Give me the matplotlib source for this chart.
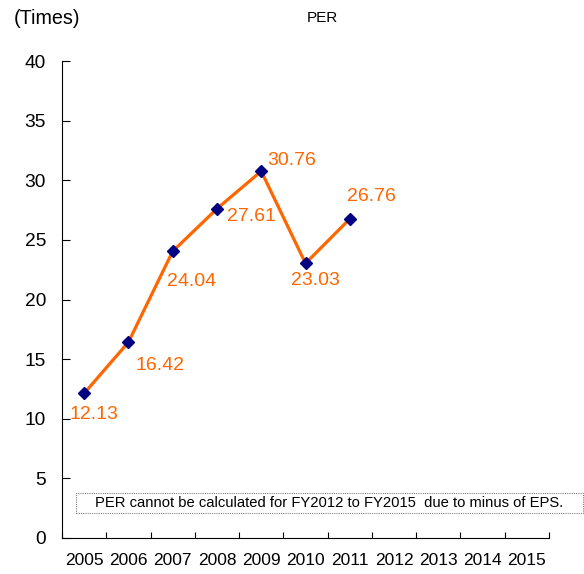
import matplotlib

matplotlib.use('Agg')
import matplotlib.pyplot as plt

plt.rcParams['font.family'] = ['Liberation Sans', 'DejaVu Sans']

years = ['2005', '2006', '2007', '2008', '2009', '2010', '2011',
         '2012', '2013', '2014', '2015']
per = [12.13, 16.42, 24.04, 27.61, 30.76, 23.03, 26.76]
# label offsets in pixels (dx, dy) relative to each point
label_offsets = [(10, -21), (32, -23), (19, -30), (34, -8), (30, 11), (10, -17), (22, 22)]

note = 'PER cannot be calculated for FY2012 to FY2015  due to minus of EPS.'

fig = plt.figure(figsize=(5.84, 5.74), dpi=100)
ax = fig.add_axes([62 / 584, 36 / 574, 487 / 584, 477 / 574])

x = list(range(len(per)))
ax.plot(x, per, color='#FF6600', lw=2.3, marker='D', ms=6,
        mfc='#000080', mec='#000080', zorder=3)

for xi, v, (dx, dy) in zip(x, per, label_offsets):
    ax.annotate(f'{v:.2f}', (xi, v), xytext=(dx, dy), textcoords='offset pixels',
                ha='center', va='center', color='#FF6600', fontsize=14)

ax.set_xlim(-0.5, len(years) - 0.5)
ax.set_ylim(0, 40)
ax.set_yticks(range(0, 41, 5))
ax.tick_params(axis='y', direction='in', length=6, labelsize=13.8, pad=11.5)

# category ticks at boundaries, labels at centres
ax.set_xticks([i - 0.5 for i in range(len(years) + 1)])
ax.set_xticklabels([])
ax.set_xticks(range(len(years)), minor=True)
ax.set_xticklabels(years, minor=True, fontsize=12.5)
ax.tick_params(axis='x', which='major', direction='in', length=4)
ax.tick_params(axis='x', which='minor', length=0, pad=11)

for s in ['top', 'right']:
    ax.spines[s].set_visible(False)

fig.text(322 / 584, 1 - 18 / 574, 'PER', ha='center', va='center', fontsize=11)
fig.text(14 / 584, 1 - 18 / 574, '(Times)', ha='left', va='center', fontsize=14.2)

fig.text(329 / 584, 1 - 503 / 574, note, ha='center', va='center', fontsize=10.6)
box = plt.Rectangle((76 / 584, 1 - 513 / 574), 507 / 584, 20 / 574,
                    transform=fig.transFigure, fill=False, ec='#808080',
                    lw=0.8, ls=(0, (1, 1)))
fig.add_artist(box)

fig.savefig('out.png', dpi=100)
